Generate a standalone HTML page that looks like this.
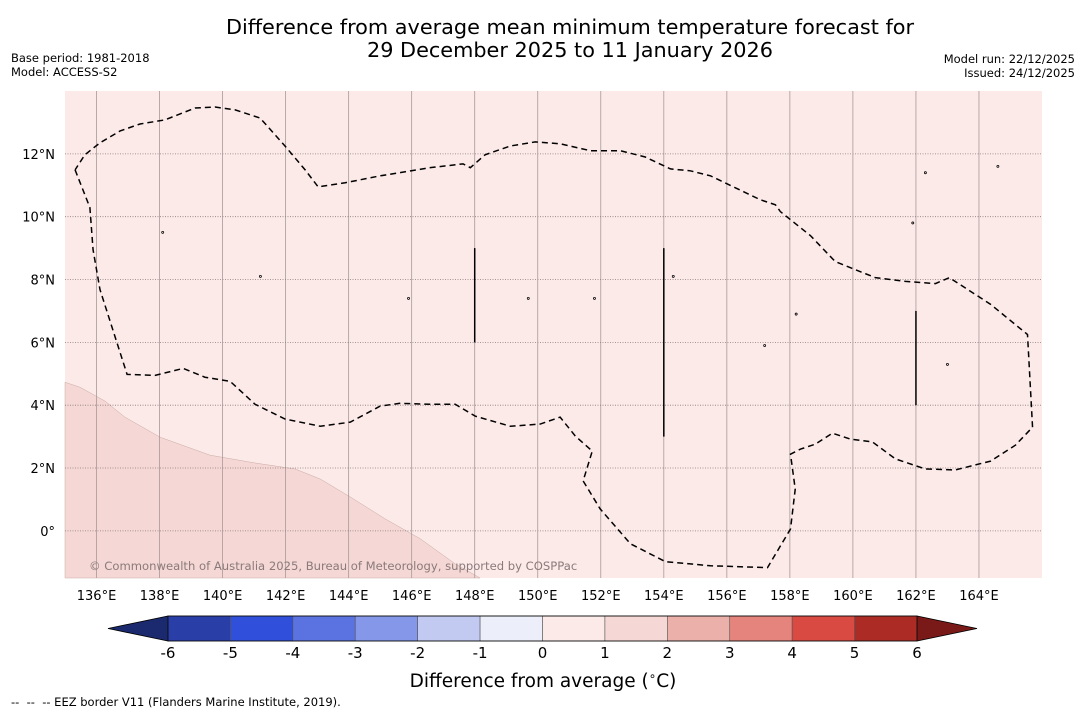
<!DOCTYPE html>
<html><head><meta charset="utf-8">
<style>
body{margin:0;background:#fff;font-family:"DejaVu Sans","Liberation Sans",sans-serif;}
svg{display:block}
</style></head>
<body>
<svg id="chart" width="1085" height="713" xmlns="http://www.w3.org/2000/svg" font-family="DejaVu Sans, Liberation Sans, sans-serif">
<text x="570" y="34" font-size="20.8" text-anchor="middle" fill="#000">Difference from average mean minimum temperature forecast for</text>
<text x="570" y="57" font-size="20.8" text-anchor="middle" fill="#000">29 December 2025 to 11 January 2026</text>
<text x="11" y="62" font-size="11.5">Base period: 1981-2018</text>
<text x="11" y="76" font-size="11.5">Model: ACCESS-S2</text>
<text x="1075" y="63" font-size="11.5" text-anchor="end">Model run: 22/12/2025</text>
<text x="1075" y="77" font-size="11.5" text-anchor="end">Issued: 24/12/2025</text>
<g id="map"></g>
<g id="cbar"></g>
<text x="543" y="687" font-size="18.5" text-anchor="middle">Difference from average (<tspan font-size="12" dy="-7">∘</tspan><tspan dy="7">C)</tspan></text>
<text x="11" y="706" font-size="11.5" xml:space="preserve">--  --  -- EEZ border V11 (Flanders Marine Institute, 2019).</text>
</svg>
<script>
const NS="http://www.w3.org/2000/svg";
const lonTicks=[136,138,140,142,144,146,148,150,152,154,156,158,160,162,164];
const latTicks=[0,2,4,6,8,10,12];
const eezLon=[135.32,135.79,135.89,136.11,136.97,137.86,138.75,139.44,140.24,141.03,141.98,143.10,144.05,145.0,145.63,146.59,147.38,148.02,149.13,150.08,150.71,151.19,151.73,151.44,151.98,152.94,154.05,155.48,157.29,158.02,158.17,158.02,158.33,158.81,159.35,159.92,160.62,161.35,162.30,163.25,164.37,165.16,165.70,165.54,164.37,163.06,162.62,161.67,160.71,159.44,158.65,157.70,157.54,157.06,156.27,155.48,154.84,154.21,153.41,152.62,151.67,150.71,149.92,149.13,148.33,147.86,147.63,146.59,145.0,143.89,143.03,142.62,141.98,141.19,140.40,139.76,139.13,138.17,137.38,136.75,136.11,135.63,135.32];
const eezLat=[11.49,10.29,8.95,7.68,4.98,4.95,5.17,4.89,4.76,4.03,3.56,3.33,3.46,3.97,4.06,4.03,4.03,3.65,3.33,3.40,3.62,3.02,2.54,1.59,0.70,-0.41,-0.98,-1.11,-1.17,0.06,1.33,2.44,2.60,2.76,3.11,2.92,2.83,2.29,1.97,1.94,2.22,2.73,3.30,6.25,7.21,8.06,7.87,7.94,8.06,8.57,9.40,10.16,10.38,10.54,10.92,11.30,11.46,11.52,11.90,12.10,12.10,12.32,12.38,12.25,11.97,11.56,11.68,11.56,11.30,11.08,10.95,11.49,12.25,13.14,13.40,13.49,13.46,13.08,12.95,12.73,12.35,11.97,11.49];
const shadeLon=[135,135.48,136.27,136.90,138.02,139.60,141.03,142.30,143.10,144.05,145.16,146.27,147.38,148.17,135];
const shadeLat=[4.73,4.57,4.13,3.62,2.98,2.41,2.16,1.97,1.65,1.08,0.38,-0.25,-1.05,-1.5,-1.5];
const segLon=[148,154,162];
const segLat1=[9,9,7];
const segLat2=[6,3,4];
const islandLon=[138.1,141.2,145.9,149.7,151.8,154.3,157.2,158.2,161.9,163.0,164.6,162.3];
const islandLat=[9.5,8.1,7.4,7.4,7.4,8.1,5.9,6.9,9.8,5.3,11.6,11.4];
const cbLevels=[-6,-5,-4,-3,-2,-1,0,1,2,3,4,5,6];
const cbColors=["#2a3ea8","#3050dc","#5a73e0","#8497e8","#c3caf2","#eceef9","#fbeae8","#f5d8d5","#ebb0aa","#e5847c","#d84a42","#ac2b25"];

const X0=65,X1=1042,Y0=91,Y1=578,LON0=135,LON1=166,LAT0=-1.5,LAT1=14;
const xs=l=>X0+(l-LON0)/(LON1-LON0)*(X1-X0);
const ys=l=>Y0+(LAT1-l)/(LAT1-LAT0)*(Y1-Y0);
function mk(t,a,p){const e=document.createElementNS(NS,t);for(const k in a)e.setAttribute(k,a[k]);p.appendChild(e);return e;}
const map=document.getElementById('map');
let bg=mk('rect',{x:X0,y:Y0,width:X1-X0,height:Y1-Y0,fill:"#fbeae8"},map);


let sh=mk('polygon',{points:shadeLon.map((l,i)=>xs(l)+","+ys(shadeLat[i])).join(" "),fill:"#f5d8d5",stroke:"#c9a9a5","stroke-width":0.5},map);


lonTicks.forEach(l=>{
  const g=mk('line',{x1:xs(l),x2:xs(l),y1:Y0,y2:Y1,stroke:"#a89898","stroke-width":0.8},map);
  
  
  const t=mk('text',{x:xs(l),y:600,"font-size":13,"text-anchor":"middle"},map);t.textContent=l+"°E";
  
  
});
latTicks.forEach(l=>{
  const g=mk('line',{x1:X0,x2:X1,y1:ys(l),y2:ys(l),stroke:"#8a7a7a","stroke-width":0.8,"stroke-dasharray":"1,1.5"},map);
  
  
  const t=mk('text',{x:55,y:ys(l)+5,"font-size":13,"text-anchor":"end"},map);t.textContent=(l===0?"0°":l+"°N");
  
  
});
islandLon.forEach((l,i)=>{
  const c=mk('circle',{cx:xs(l),cy:ys(islandLat[i]),r:1,fill:"none",stroke:"#000","stroke-width":0.8},map);
  
  
});
let eez=mk('polyline',{points:eezLon.map((l,i)=>xs(l)+","+ys(eezLat[i])).join(" "),fill:"none",stroke:"#000","stroke-width":1.5,"stroke-dasharray":"6,4"},map);


segLon.forEach((l,i)=>{
  const s=mk('line',{x1:xs(l),x2:xs(l),y1:ys(segLat1[i]),y2:ys(segLat2[i]),stroke:"#000","stroke-width":1.5},map);
  
  
});
let wm=mk('text',{x:89,y:570,"font-size":11.6,fill:"#8a7a7a"},map);wm.textContent="© Commonwealth of Australia 2025, Bureau of Meteorology, supported by COSPPac";


const cb=document.getElementById('cbar');
const CX0=168,CX1=917,CY0=616,CY1=641;
const cx=v=>CX0+(v-cbLevels[0])/(cbLevels[cbLevels.length-1]-cbLevels[0])*(CX1-CX0);
let lt=mk('polygon',{points:`108,${(CY0+CY1)/2} ${CX0},${CY0} ${CX0},${CY1}`,fill:"#1b2a6f",stroke:"#000","stroke-width":0.8},cb);


let rt=mk('polygon',{points:`977,${(CY0+CY1)/2} ${CX1},${CY0} ${CX1},${CY1}`,fill:"#7a1a18",stroke:"#000","stroke-width":0.8},cb);


cbColors.forEach((c,i)=>{
  const r=mk('rect',{x:cx(cbLevels[i]),y:CY0,width:cx(cbLevels[i+1])-cx(cbLevels[i]),height:CY1-CY0,fill:c,stroke:"#555","stroke-width":0.6},cb);
  
  
});
mk('rect',{x:CX0,y:CY0,width:CX1-CX0,height:CY1-CY0,fill:"none",stroke:"#000","stroke-width":0.8},cb);
cbLevels.forEach(v=>{
  const t=mk('text',{x:cx(v),y:658,"font-size":15,"text-anchor":"middle"},cb);t.textContent=v;
  
  
});
</script>
</body></html>
